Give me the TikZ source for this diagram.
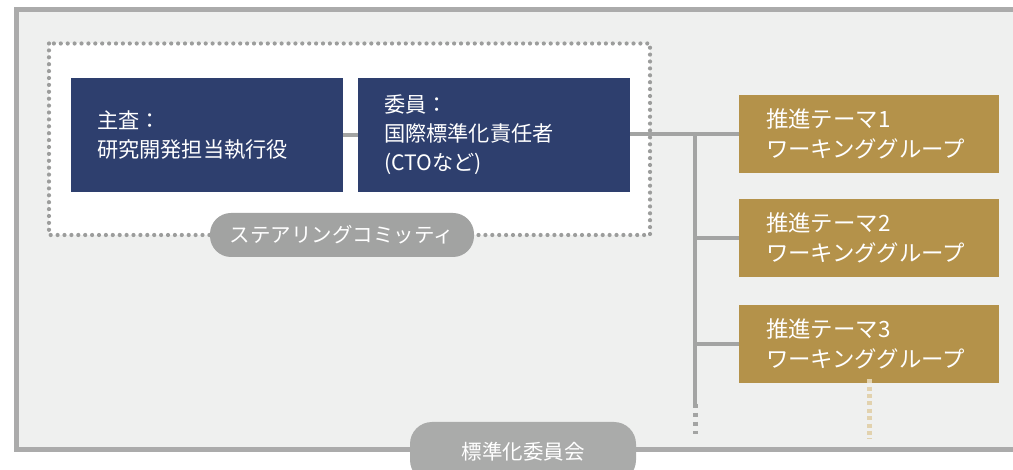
\documentclass[tikz,border=0pt]{standalone}
\usepackage{fontspec}
\setmainfont{Noto Sans CJK JP}
\definecolor{bgfill}{HTML}{EFF0EF}
\definecolor{framec}{HTML}{ABABAB}
\definecolor{navyc}{HTML}{2E3F6E}
\definecolor{goldc}{HTML}{B4924A}
\definecolor{connc}{HTML}{A3A4A3}
\definecolor{pillc}{HTML}{A2A3A2}
\definecolor{pillb}{HTML}{AAABAA}
\definecolor{dotc}{HTML}{9C9D9C}
\definecolor{tanc}{HTML}{E2D2AE}
\begin{document}
\begin{tikzpicture}[x=1pt,y=-1pt,
  navybox/.style={fill=navyc, text=white, minimum width=272pt, minimum height=114pt,
    inner xsep=26pt, text width=220pt, align=left, font=\fontsize{21.2}{29}\selectfont},
  goldbox/.style={fill=goldc, text=white, minimum width=260pt, minimum height=78pt,
    inner xsep=27pt, text width=206pt, align=left, font=\fontsize{22.4}{30}\selectfont},
  pill/.style={fill=pillc, text=white, rounded corners=21pt, minimum width=264pt,
    minimum height=44pt, inner sep=0pt, font=\fontsize{20.5}{24}\selectfont},
  conn/.style={draw=connc, line width=4.5pt},
  dotbox/.style={draw=dotc, line width=4.2pt, line cap=round, dash pattern=on 0pt off 6.9pt},
  sqdots/.style={line width=5pt, dash pattern=on 4pt off 5pt}]
\useasboundingbox (0,0) rectangle (1013,470);
\clip (0,0) rectangle (1013,470);
\fill[white] (0,0) rectangle (1013,470);
% outer frame
\fill[bgfill] (16.5,9.5) rectangle (1020,449.5);
\draw[framec, line width=4.6pt] (1020,9.5) -- (16.5,9.5) -- (16.5,449.5) -- (1020,449.5);
% steering committee dotted box
\fill[white] (49,43.5) rectangle (650,235);
\draw[dotbox] (49,43.5) rectangle (650,235);
% nodes
\node[navybox] (chief) at (207,135) {主査：\\研究開発担当執行役};
\node[navybox] (member) at (494,135) {委員：\\国際標準化責任者\\(CTOなど)};
\node[goldbox] (wg1) at (869,134) {推進テーマ1\\ワーキンググループ};
\node[goldbox] (wg2) at (869,238) {推進テーマ2\\ワーキンググループ};
\node[goldbox] (wg3) at (869,344) {推進テーマ3\\ワーキンググループ};
\node[pill] (steer) at (342,235) {ステアリングコミッティ};
\node[pill, fill=pillb, minimum width=226pt, minimum height=60pt, rounded corners=22pt] (stdcom) at (523,452) {\raisebox{2pt}{標準化委員会}};
% connectors
\coordinate (trunktop) at (695,134);
\coordinate (trunkend) at (695,404);
\coordinate (tanend) at (869,439);
\draw[conn] (chief.east) -- (member.west);
\draw[conn] (member.east |- wg1.west) -- (wg1.west);
\draw[conn] (trunktop) -- (trunkend);
\draw[conn] (trunktop |- wg2.west) -- (wg2.west);
\draw[conn] (trunktop |- wg3.west) -- (wg3.west);
\draw[sqdots, draw=connc] (trunkend) -- ++(0,30);
\draw[sqdots, draw=tanc, dash pattern=on 4pt off 3.4pt] ([yshift=4pt]wg3.south) -- (tanend);
\end{tikzpicture}
\end{document}
